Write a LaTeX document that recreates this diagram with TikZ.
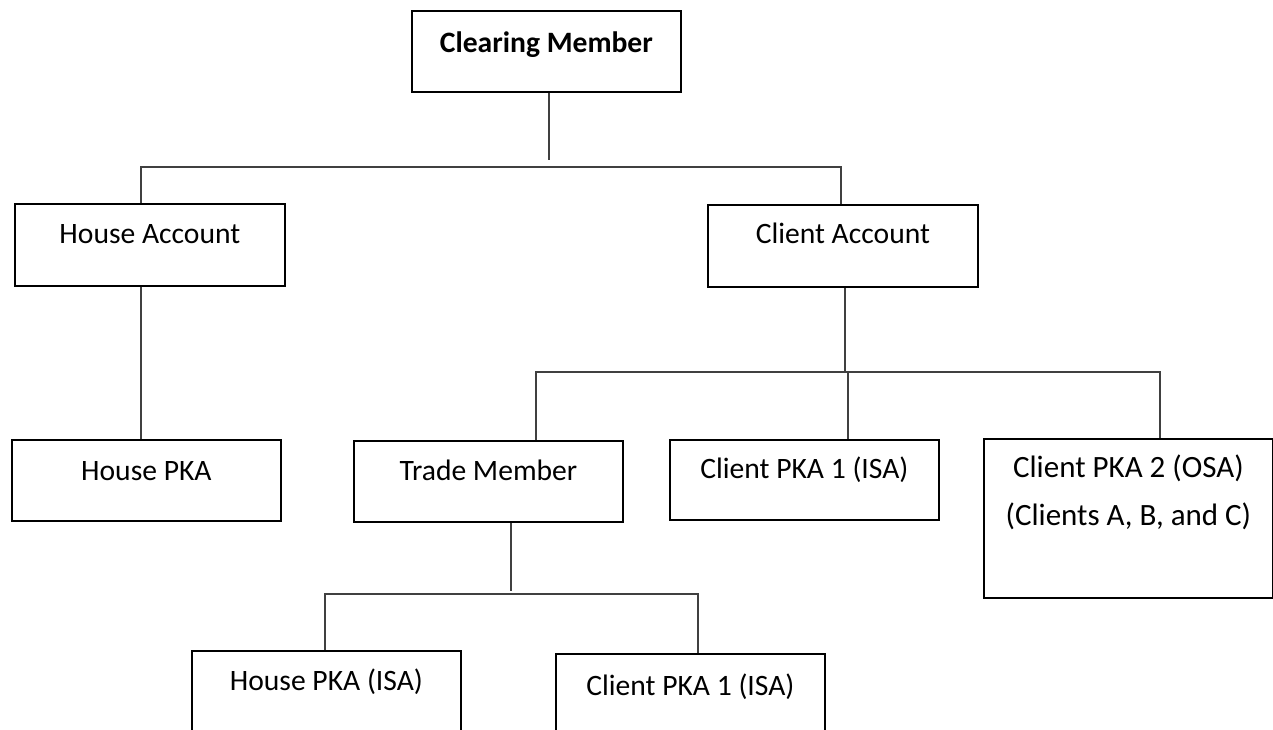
\documentclass[tikz,border=0pt]{standalone}
\usepackage{fontspec}
\setmainfont{Carlito}
\usepackage{tikz}
\usetikzlibrary{calc}
\tikzset{
  % Base box
  BX/.style={rectangle,draw,line width=1.8pt,anchor=north west,
             inner xsep=0pt,inner ysep=0pt,align=center,
             minimum width=269pt,text height=39.5pt,
             font=\fontsize{29.6}{48}\selectfont},
  % Connector
  ln/.style={line width=1.1pt,draw=black!75}
}
\begin{document}
\begin{tikzpicture}[x=1pt,y=-1pt]
  \clip (0,0) rectangle (1273,729);
  \fill[white] (0,0) rectangle (1273,729);

  \node[BX,text height=41.5pt,text depth=39.5pt,font=\fontsize{29.6}{48}\selectfont\bfseries] (cm) at (411,10) {Clearing Member};
  \node[BX,minimum width=270pt,text depth=42.5pt]                      (ha)  at (14,203)  {House Account};
  \node[BX,minimum width=270pt,text height=38.5pt,text depth=43.5pt]   (ca)  at (707,204) {Client Account};
  \node[BX,text height=40.5pt,text depth=40.5pt]                       (hp)  at (11,439)  {House PKA};
  \node[BX,text depth=41.5pt]                                          (tm)  at (353,440) {Trade Member};
  \node[BX,text height=38.5pt,text depth=41.5pt]                       (cp1) at (669,439) {Client PKA 1 (ISA)};
  \node[BX,minimum width=289pt,text height=86.5pt,text depth=72.5pt,
        font=\fontsize{31}{48}\selectfont]                             (cp2) at (983,438) {Client PKA 2 (OSA)\\(Clients A, B, and C)};
  \node[BX,text depth=100pt]                                           (hpi) at (191,650) {House PKA (ISA)};
  \node[BX,text height=41.5pt,text depth=100pt]                        (cpb) at (555,653) {Client PKA 1 (ISA)};

  % Bus ends
  \coordinate (cmT) at (549,160);
  \coordinate (b1L) at (141,167);
  \coordinate (b1R) at (841,167);
  \coordinate (caT) at (845,372);
  \coordinate (b2L) at (536,371);
  \coordinate (b2M) at (848,372);
  \coordinate (b2R) at (1160,372);
  \coordinate (tmT) at (511,591);
  \coordinate (b3L) at (325,594);
  \coordinate (b3R) at (698,594);

  \draw[ln](cm.south -| cmT) -- (cmT);
  \draw[ln](ha.north -| b1L) |- (b1R) -- (b1R |- ca.north);
  \draw[ln](ha.south -| b1L) -- (b1L |- hp.north);
  \draw[ln](ca.south -| caT) -- (caT);
  \draw[ln](tm.north -| b2L) |- (b2R) -- (b2R |- cp2.north);
  \draw[ln](b2M) -- (b2M |- cp1.north);
  \draw[ln](tm.south -| tmT) -- (tmT);
  \draw[ln](hpi.north -| b3L) |- (b3R) -- (b3R |- cpb.north);
\end{tikzpicture}
\end{document}
